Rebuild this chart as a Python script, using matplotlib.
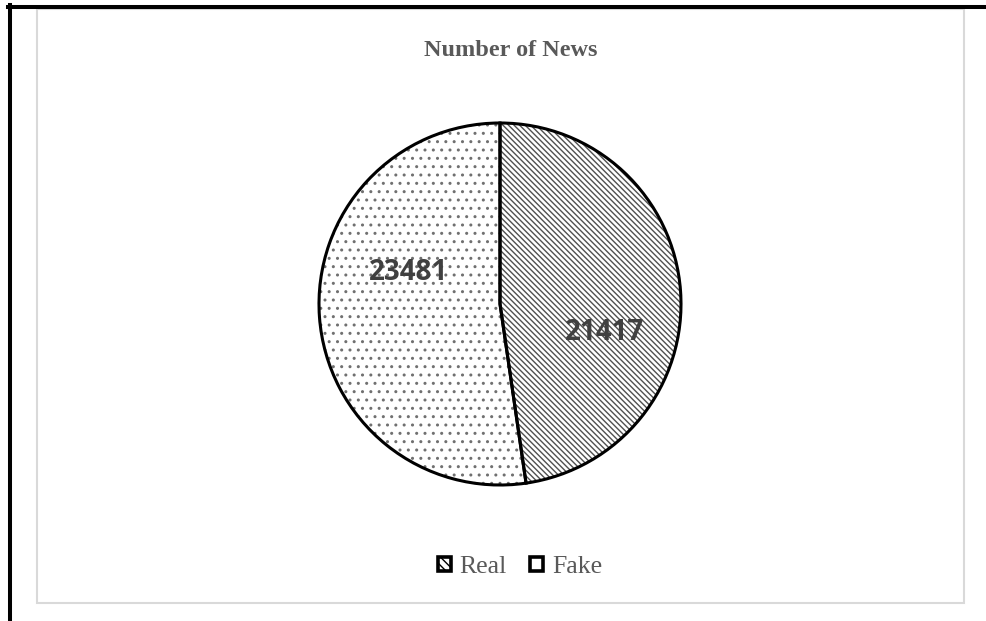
import matplotlib.pyplot as plt
from matplotlib.patches import Patch, Rectangle
from matplotlib.lines import Line2D

labels = ["Real", "Fake"]
counts = [21417, 23481]
hatches = ["\\\\\\\\\\\\", ".."]
hatch_colors = ["#505050", "#707070"]

W, H = 987, 621
plt.rcParams['hatch.linewidth'] = 1.0

fig = plt.figure(figsize=(W / 100, H / 100), dpi=100)

# outer frame (black on top/left) and light grey chart area
fig.add_artist(Line2D([8 / W, 1], [1 - 6.5 / H] * 2, color="black", lw=2.9))
fig.add_artist(Line2D([10 / W] * 2, [0, 1 - 5 / H], color="black", lw=2.9))
fig.add_artist(Rectangle((37 / W, 1 - 603 / H), (964 - 37) / W, (603 - 9) / H,
                         fill=False, edgecolor="#d9d9d9", lw=1.5))

# pie placed so center ~ (500, 304) px, radius ~ 181 px
cx, cy, r = 500, 304, 181
m = 1.1
ax = fig.add_axes([(cx - r * m) / W, (H - cy - r * m) / H, 2 * r * m / W, 2 * r * m / H])

wedges, _ = ax.pie(counts, startangle=90, counterclock=False, radius=1,
                   colors=["white", "white"],
                   wedgeprops=dict(linewidth=0))
for w, h, hc in zip(wedges, hatches, hatch_colors):
    w.set_edgecolor(hc)
    w.set_hatch(h)
ax.pie(counts, startangle=90, counterclock=False, radius=1,
       colors=["none", "none"],
       wedgeprops=dict(edgecolor="black", linewidth=2.2))
ax.set_xlim(-m, m)
ax.set_ylim(-m, m)
ax.axis("off")

# data labels
ax.text((605 - cx) / r, (cy - 333) / r, str(counts[0]), ha="center", va="center",
        fontsize=20, fontweight="bold", family="Open Sans", color="#404040")
ax.text((409 - cx) / r, (cy - 272) / r, str(counts[1]), ha="center", va="center",
        fontsize=20, fontweight="bold", family="Open Sans", color="#404040")

fig.text(511 / W, 1 - 50 / H, "Number of News", ha="center", va="center",
         fontsize=17.5, fontweight="bold", family="Liberation Serif", color="#595959")

handles = [Patch(facecolor="white", edgecolor="black", hatch="\\\\\\\\", lw=2.6),
           Patch(facecolor="white", edgecolor="black", lw=2.6)]
leg = fig.legend(handles, labels, loc="center", bbox_to_anchor=(520 / W, 1 - 567 / H),
                 ncol=2, frameon=False, handlelength=0.5, handleheight=0.5,
                 handletextpad=0.35, columnspacing=0.9,
                 prop={"family": "Liberation Serif", "size": 18.5})
for t in leg.get_texts():
    t.set_color("#595959")

fig.savefig("out.png", dpi=100)
